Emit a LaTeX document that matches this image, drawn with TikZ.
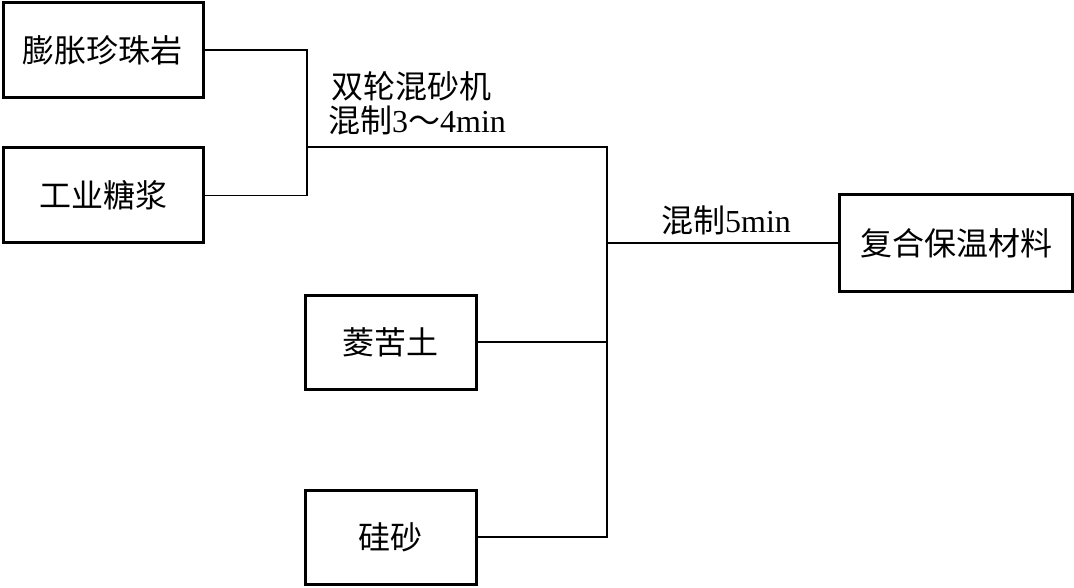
\documentclass[tikz,border=0pt]{standalone}
\usepackage{fontspec}
\setmainfont{Liberation Serif}
\newfontfamily\cjk{Noto Sans CJK SC}
\tikzset{
  box/.style={draw, line width=3pt, inner sep=0pt, font=\cjk\fontsize{32pt}{36pt}\selectfont},
  conn/.style={line width=1.5pt},
  lbl/.style={inner sep=0pt, anchor=west, font=\fontsize{32pt}{36pt}\selectfont}
}
\begin{document}
\begin{tikzpicture}[x=1pt,y=-1pt]
\useasboundingbox (0,0) rectangle (1074,588);
\node[box, minimum width=200pt, minimum height=95pt] (b1) at (103,50) {膨胀珍珠岩};
\node[box, minimum width=200pt, minimum height=95pt] (b2) at (103,195.5) {工业糖浆};
\node[box, minimum width=171pt, minimum height=94pt] (b3) at (390.5,342) {菱苦土};
\node[box, minimum width=171pt, minimum height=94pt] (b4) at (390.5,537) {硅砂};
\node[box, minimum width=233pt, minimum height=96pt] (b5) at (956,243) {复合保温材料};
\coordinate (a) at (307,147);
\coordinate (m) at (607,147);
\coordinate (o) at (607,243);
\node[lbl] (t1) at (331,86) {{\cjk 双轮混砂机}};
\node[lbl] (t2) at (328,120) {{\cjk 混制}3{\cjk ～}4min};
\node[lbl] (t3) at (661,220) {{\cjk 混制}5min};
\draw[conn] (b1.east) -| (a |- b2.east) -- (b2.east);
\draw[conn] (a) -- (m) -- (m |- b4.east) -- (b4.east);
\draw[conn] (b3.east) -- (b3.east -| m);
\draw[conn] (o) -- (b5.west);
\end{tikzpicture}
\end{document}
